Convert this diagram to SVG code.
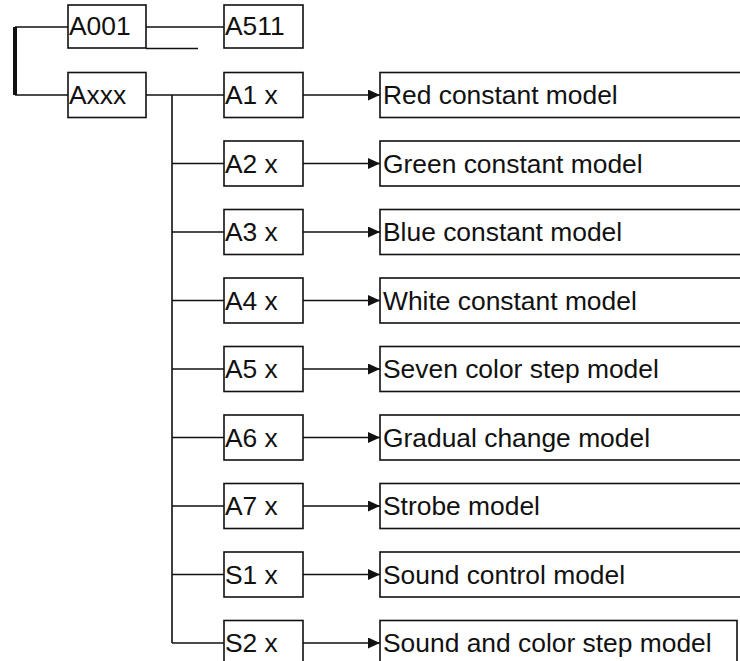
<svg xmlns="http://www.w3.org/2000/svg" width="740" height="661" viewBox="0 0 740 661">
<defs>
<style>
.box{fill:#fff;stroke:#111;stroke-width:1.6}
.ln{fill:none;stroke:#111;stroke-width:1.6}
.t{font-family:"Liberation Sans",Arial,sans-serif;font-size:26.4px;fill:#111}
</style>
<marker id="ah" viewBox="0 0 12 11" refX="12" refY="5.5" markerWidth="12" markerHeight="11" markerUnits="userSpaceOnUse" orient="auto">
<path d="M0,0 L12,5.5 L0,11 Z" fill="#111"/>
</marker>
</defs>
<rect width="740" height="661" fill="#fff"/>
<g id="connectors">
<line class="ln" x1="15" y1="27" x2="15" y2="95" style="stroke-width:4"/>
<line class="ln" x1="15" y1="27" x2="68" y2="27"/>
<line class="ln" x1="15" y1="95" x2="68" y2="95"/>
<line class="ln" x1="146" y1="27" x2="224" y2="27"/>
<line class="ln" x1="146" y1="48.5" x2="198" y2="48.5"/>
<line class="ln" x1="146" y1="95" x2="224" y2="95"/>
<line class="ln" x1="172" y1="95" x2="172" y2="643"/>
<line class="ln" x1="172" y1="163.5" x2="224" y2="163.5"/>
<line class="ln" x1="172" y1="232" x2="224" y2="232"/>
<line class="ln" x1="172" y1="300.5" x2="224" y2="300.5"/>
<line class="ln" x1="172" y1="369" x2="224" y2="369"/>
<line class="ln" x1="172" y1="437.5" x2="224" y2="437.5"/>
<line class="ln" x1="172" y1="506" x2="224" y2="506"/>
<line class="ln" x1="172" y1="574.5" x2="224" y2="574.5"/>
<line class="ln" x1="172" y1="643" x2="224" y2="643"/>
<line class="ln" x1="303" y1="95" x2="380" y2="95" marker-end="url(#ah)"/>
<line class="ln" x1="303" y1="163.5" x2="380" y2="163.5" marker-end="url(#ah)"/>
<line class="ln" x1="303" y1="232" x2="380" y2="232" marker-end="url(#ah)"/>
<line class="ln" x1="303" y1="300.5" x2="380" y2="300.5" marker-end="url(#ah)"/>
<line class="ln" x1="303" y1="369" x2="380" y2="369" marker-end="url(#ah)"/>
<line class="ln" x1="303" y1="437.5" x2="380" y2="437.5" marker-end="url(#ah)"/>
<line class="ln" x1="303" y1="506" x2="380" y2="506" marker-end="url(#ah)"/>
<line class="ln" x1="303" y1="574.5" x2="380" y2="574.5" marker-end="url(#ah)"/>
<line class="ln" x1="303" y1="643" x2="380" y2="643" marker-end="url(#ah)"/>
</g>
<g id="A001"><rect class="box" x="68" y="5" width="78" height="43"/><text class="t" x="69" y="35">A001</text></g>
<g id="A511"><rect class="box" x="224" y="5" width="79" height="43"/><text class="t" x="225" y="35">A511</text></g>
<g id="Axxx"><rect class="box" x="68" y="72.5" width="78" height="45"/><text class="t" x="69" y="104">Axxx</text></g>
<g id="A1"><rect class="box" x="224" y="72.5" width="79" height="45"/><text class="t" x="225" y="104">A1 x</text></g>
<g id="A2"><rect class="box" x="224" y="141" width="79" height="45"/><text class="t" x="225" y="172.5">A2 x</text></g>
<g id="A3"><rect class="box" x="224" y="209.5" width="79" height="45"/><text class="t" x="225" y="241">A3 x</text></g>
<g id="A4"><rect class="box" x="224" y="278" width="79" height="45"/><text class="t" x="225" y="309.5">A4 x</text></g>
<g id="A5"><rect class="box" x="224" y="346.5" width="79" height="45"/><text class="t" x="225" y="378">A5 x</text></g>
<g id="A6"><rect class="box" x="224" y="415" width="79" height="45"/><text class="t" x="225" y="446.5">A6 x</text></g>
<g id="A7"><rect class="box" x="224" y="483.5" width="79" height="45"/><text class="t" x="225" y="515">A7 x</text></g>
<g id="S1"><rect class="box" x="224" y="552" width="79" height="45"/><text class="t" x="225" y="583.5">S1 x</text></g>
<g id="S2"><rect class="box" x="224" y="620.5" width="79" height="45"/><text class="t" x="225" y="652">S2 x</text></g>
<g id="red"><rect class="box" x="380" y="72.5" width="366" height="45"/><text class="t" x="383" y="104">Red constant model</text></g>
<g id="green"><rect class="box" x="380" y="141" width="366" height="45"/><text class="t" x="383" y="172.5">Green constant model</text></g>
<g id="blue"><rect class="box" x="380" y="209.5" width="366" height="45"/><text class="t" x="383" y="241">Blue constant model</text></g>
<g id="white"><rect class="box" x="380" y="278" width="366" height="45"/><text class="t" x="383" y="309.5">White constant model</text></g>
<g id="seven"><rect class="box" x="380" y="346.5" width="366" height="45"/><text class="t" x="383" y="378">Seven color step model</text></g>
<g id="gradual"><rect class="box" x="380" y="415" width="366" height="45"/><text class="t" x="383" y="446.5">Gradual change model</text></g>
<g id="strobe"><rect class="box" x="380" y="483.5" width="366" height="45"/><text class="t" x="383" y="515">Strobe model</text></g>
<g id="sound"><rect class="box" x="380" y="552" width="366" height="45"/><text class="t" x="383" y="583.5">Sound control model</text></g>
<g id="soundcolor"><rect class="box" x="380" y="620.5" width="357" height="45"/><text class="t" x="383" y="652">Sound and color step model</text></g>
</svg>
